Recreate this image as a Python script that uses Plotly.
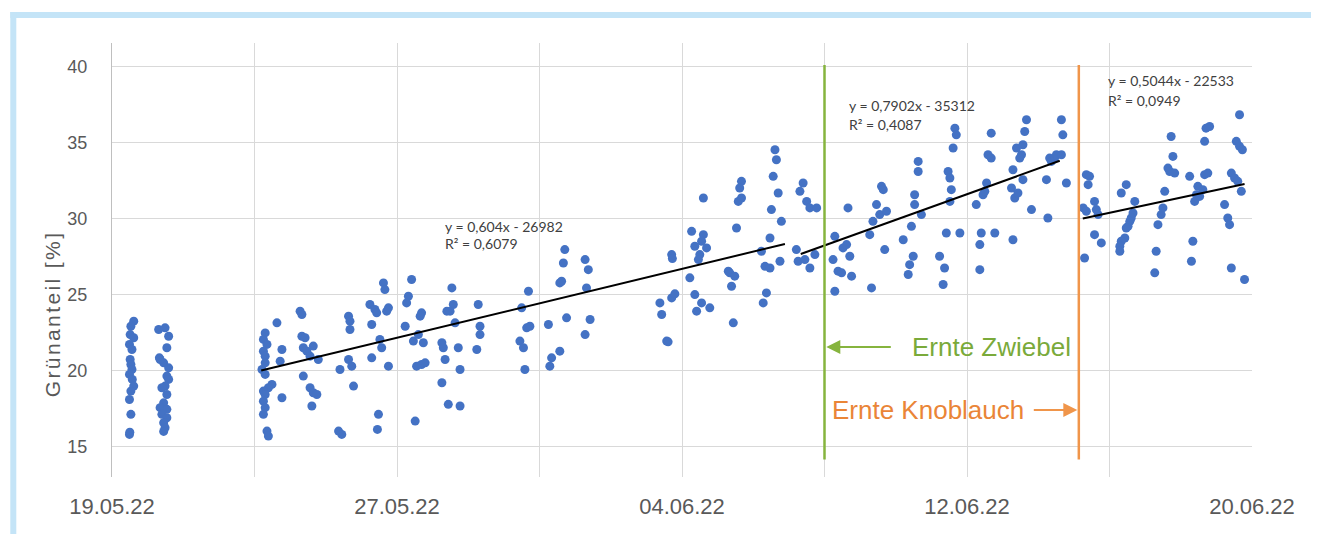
import pandas as pd
import plotly.graph_objects as go

# ---------------- data ----------------
base_date = pd.Timestamp("2022-05-19 00:00")

# measurement time as days after 19.05.22 00:00, and green share [%]
day_offset = [
    # 19./20.05.
    0.61, 0.53, 0.51, 0.61, 0.49, 0.56, 0.51, 0.53, 0.56, 0.49, 0.57, 0.61, 0.53, 0.49, 0.53, 0.49, 0.50,
    1.31, 1.49, 1.59, 1.54, 1.33, 1.45, 1.59, 1.54, 1.59, 1.49, 1.54, 1.45, 1.35, 1.54, 1.40, 1.54, 1.45, 1.49, 1.45, 1.35, 1.40,
    # 23.05.
    4.63, 4.30, 4.25, 4.35, 4.77, 4.25, 4.30, 4.72, 4.30, 4.21, 4.30, 4.49, 4.39, 4.25, 4.77, 4.30, 4.25, 4.30, 4.25, 4.35, 4.39,
    # 24.05. - 29.05.
    5.28, 5.33, 5.33, 5.42, 5.37, 5.47, 5.65, 5.56, 5.79, 5.37, 5.56, 5.65, 5.75, 5.61,
    6.64, 6.68, 6.68, 6.64, 6.73, 6.40, 6.78, 6.36, 6.45,
    7.24, 7.38, 7.43, 7.29, 7.71, 7.76, 7.52, 7.57, 7.29, 7.76, 7.48, 7.45, 7.62, 7.66,
    8.41, 8.32, 8.27, 8.23, 8.69, 8.65, 8.60, 8.46, 8.74, 8.55, 8.69, 8.79, 8.51,
    9.54, 9.58, 9.49, 9.40, 9.63, 9.26, 9.30, 9.72, 9.35, 9.77, 9.26, 9.44, 9.77,
    10.28, 10.33, 10.33, 10.24,
    # 30.05. - 03.06.
    11.69, 11.50, 11.64, 11.73, 11.45, 11.55, 11.59,
    12.25, 12.34, 12.29, 12.57, 12.71, 12.67, 12.57, 12.62, 12.76,
    13.28, 13.37, 13.32, 13.42, 13.28,
    15.71, 15.73, 15.38, 15.71, 15.80, 15.43, 15.57, 15.61,
    # 04.06. - 08.06.
    16.27, 16.60, 16.69, 16.55, 16.36, 16.50, 16.46, 16.22, 16.36, 16.55, 16.78, 16.41, 16.60,
    17.67, 17.62, 17.58, 17.67, 17.53, 17.30, 17.34, 17.48, 17.39, 17.44,
    18.61, 18.65, 18.56, 18.70, 18.51, 18.79, 18.47, 18.23, 18.33, 18.47, 18.75, 18.37, 18.28,
    19.40, 19.31, 19.50, 19.59, 19.78, 19.21, 19.26, 19.45, 19.59, 19.73,
    20.29, 20.52, 20.62, 20.71, 20.24, 20.38, 20.48, 20.76, 20.29, 20.66,
    # 09.06. - 14.06.
    21.27, 21.36, 21.46, 21.55, 21.60, 21.65, 21.74, 21.32, 21.69,
    22.21, 22.44, 22.49, 22.39, 22.35, 22.53, 22.53, 22.63, 22.63, 22.72,
    23.23, 23.37, 23.33, 23.42, 23.80, 23.47, 23.52, 23.56, 23.52, 23.61, 23.66, 23.70,
    24.26, 24.40, 24.36, 24.36, 24.45, 24.55, 24.50, 24.68, 24.59, 24.68, 24.78,
    25.25, 25.29, 25.34, 25.29, 25.43, 25.39, 25.57, 25.53, 25.48, 25.57, 25.67, 25.62, 25.81,
    26.23, 26.27, 26.32, 26.37, 26.46, 26.51, 26.65, 26.69, 26.65, 26.79,
    # 15.06. - 19.06.
    27.35, 27.44, 27.40, 27.26, 27.35, 27.58, 27.63, 27.68, 27.58, 27.77, 27.30,
    28.33, 28.47, 28.71, 28.66, 28.61, 28.57, 28.52, 28.47, 28.43, 28.33, 28.29, 28.29,
    29.31, 29.27, 29.36, 29.45, 29.50, 29.55, 29.73, 29.78, 29.64, 29.69, 29.83,
    30.25, 30.34, 30.30, 30.48, 30.44, 30.39, 30.53, 30.62, 30.67, 30.76, 30.67, 30.71, 30.81,
    31.23, 31.32, 31.37, 31.42, 31.42, 31.51, 31.60, 31.70, 31.56, 31.65, 31.73, 31.65, 31.79,
]
gruenanteil = [
    23.25, 22.92, 22.37, 22.16, 21.72, 21.39, 20.73, 20.40, 20.07, 19.75, 19.42, 18.98, 18.65, 18.10, 17.12, 15.80, 15.95,
    22.70, 22.81, 22.26, 21.50, 20.84, 20.51, 20.18, 19.64, 19.42, 18.98, 18.43, 17.88, 17.56, 17.45, 17.12, 16.90, 16.57, 16.24, 16.00, 20.73, 18.87,
    23.14, 22.48, 22.05, 21.72, 21.39, 21.28, 20.95, 20.62, 20.51, 20.07, 19.75, 19.09, 18.87, 18.65, 18.21, 18.43, 17.99, 17.56, 17.12, 16.02, 15.69,
    23.91, 23.69, 22.26, 22.16, 21.50, 21.28, 21.61, 20.95, 20.73, 19.64, 18.87, 18.54, 18.43, 17.67,
    23.58, 23.25, 22.70, 20.73, 20.29, 20.07, 18.98, 16.02, 15.80,
    24.35, 24.02, 23.80, 23.03, 23.91, 24.13, 22.05, 21.50, 20.84, 20.29, 17.12, 16.13, 25.77, 25.33,
    25.99, 24.89, 24.45, 22.92, 23.80, 23.58, 22.37, 21.94, 21.83, 20.29, 20.40, 20.51, 16.68,
    25.44, 24.35, 23.91, 23.91, 23.14, 21.83, 21.50, 21.50, 20.73, 20.07, 19.20, 17.78, 17.67,
    24.35, 22.92, 22.37, 21.39,
    25.22, 24.13, 22.81, 22.92, 21.94, 21.50, 20.07,
    23.03, 20.84, 20.29, 21.28, 27.96, 27.08, 25.77, 25.88, 23.47,
    27.30, 26.64, 25.44, 23.36, 22.37,
    27.63, 27.37, 24.45, 24.78, 25.05, 23.69, 21.94, 21.89,
    29.16, 28.94, 28.07, 28.51, 28.18, 27.63, 27.30, 26.10, 25.00, 24.45, 24.13, 23.91, 31.35,
    32.45, 32.01, 31.13, 31.35, 29.38, 26.54, 26.43, 26.21, 25.55, 23.14,
    34.53, 33.87, 32.78, 31.68, 30.59, 29.82, 28.72, 27.85, 26.86, 26.75, 27.19, 25.11, 24.45,
    32.34, 31.79, 31.13, 30.70, 30.70, 27.96, 27.19, 27.30, 26.75, 27.63,
    28.83, 28.07, 28.29, 27.52, 27.30, 26.54, 26.43, 26.21, 25.22, 30.70,
    28.94, 29.82, 30.92, 30.26, 32.12, 31.90, 30.48, 25.44, 27.96,
    28.61, 29.49, 27.52, 26.97, 26.32, 31.57, 30.92, 33.76, 33.10, 30.26,
    27.52, 26.75, 25.66, 29.05, 29.05, 33.10, 32.67, 31.90, 31.13, 34.64, 35.95, 35.51,
    30.92, 29.05, 28.29, 26.64, 31.57, 32.34, 31.79, 35.62, 34.20, 33.98, 29.05,
    32.01, 33.21, 31.35, 28.61, 31.68, 34.64, 34.86, 34.20, 33.98, 32.56, 36.50, 35.73, 30.59,
    32.56, 30.04, 33.98, 33.76, 33.98, 34.20, 36.50, 35.51, 34.20, 32.34,
    32.89, 32.78, 32.23, 30.70, 30.48, 31.13, 30.59, 30.26, 28.94, 28.40, 27.41,
    31.68, 32.23, 31.13, 30.37, 30.04, 29.82, 29.49, 29.38, 28.72, 28.51, 28.18, 27.85,
    27.85, 26.43, 29.60, 30.26, 30.70, 31.79, 35.40, 34.09, 33.32, 33.10, 32.99,
    32.78, 28.51, 27.19, 32.12, 31.57, 31.13, 31.46, 31.90, 32.89, 32.99, 35.08, 35.95, 36.06,
    30.92, 30.04, 29.60, 26.75, 32.99, 32.67, 32.45, 31.79, 35.08, 34.75, 34.53, 36.83, 25.99,
]

# linear trend segments (start / end time, start / end value)
trend_start = ["2022-05-23 04:30", "2022-06-07 08:00", "2022-06-15 06:00"]
trend_end = ["2022-06-06 21:20", "2022-06-14 14:30", "2022-06-19 19:00"]
trend_start_val = [20.0, 27.67, 30.0]
trend_end_val = [28.33, 33.8, 32.27]
trend_eq = ["y = 0,604x - 26982", "y = 0,7902x - 35312", "y = 0,5044x - 22533"]
trend_r2 = ["R² = 0,6079", "R² = 0,4087", "R² = 0,0949"]

harvest_labels = ["Ernte Zwiebel", "Ernte Knoblauch"]
harvest_dates = ["2022-06-08 00:00", "2022-06-15 03:20"]

y_ticks = [15, 20, 25, 30, 35, 40]

# ---------------- figure ----------------
times = [base_date + pd.Timedelta(days=d) for d in day_offset]

fig = go.Figure()
fig.add_trace(go.Scatter(
    x=times, y=gruenanteil, mode="markers",
    marker=dict(color="#4472C4", size=9, line=dict(width=0)),
    showlegend=False, hoverinfo="skip"))

for s, e, sv, ev in zip(trend_start, trend_end, trend_start_val, trend_end_val):
    fig.add_trace(go.Scatter(
        x=[s, e], y=[sv, ev], mode="lines",
        line=dict(color="#000000", width=2), showlegend=False, hoverinfo="skip"))

# page body has an 8px default margin -> shrink figure and shift layout
OFF = 8
W, H = 1319 - OFF, 534 - OFF
L, R, T, B = 111.7, 1251.7, 43, 477   # plot area in page pixels


def px_x(p):
    return (p - L) / (R - L)


def px_y(p):
    return (B - p) / (B - T)


harvest_colors = ["#86B43E", "#F0954A"]
for d, c in zip(harvest_dates, harvest_colors):
    fig.add_shape(type="line", xref="x", yref="y", x0=d, x1=d, y0=14.15, y1=40.11,
                  line=dict(color=c, width=2.5), layer="above")

# outer light blue frame (top and left edges)
frame = dict(color="#C4E4F7", width=6)
fig.add_shape(type="line", xref="paper", yref="paper",
              x0=px_x(10), x1=px_x(1400), y0=px_y(15), y1=px_y(15), line=frame, layer="below")
fig.add_shape(type="line", xref="paper", yref="paper",
              x0=px_x(13), x1=px_x(13), y0=px_y(12), y1=px_y(600), line=frame, layer="below")

ann = []
eq_pos = [(443, 226, 243), (847, 105, 125), (1106, 81, 100)]
for (xp, y1p, y2p), eq, r2 in zip(eq_pos, trend_eq, trend_r2):
    for txt, yp in ((eq, y1p), (r2, y2p)):
        ann.append(dict(x=px_x(xp), y=px_y(yp), xref="paper", yref="paper",
                        text=txt, showarrow=False, xanchor="left", yanchor="middle",
                        font=dict(family="Lato", size=14, color="#404040")))

ann.append(dict(x=px_x(910), y=px_y(347), xref="paper", yref="paper",
                text=harvest_labels[0], showarrow=False, xanchor="left", yanchor="middle",
                font=dict(family="Liberation Sans", size=26, color="#7AAA3A")))
ann.append(dict(x=px_x(830), y=px_y(410), xref="paper", yref="paper",
                text=harvest_labels[1], showarrow=False, xanchor="left", yanchor="middle",
                font=dict(family="Liberation Sans", size=26, color="#EA8537")))
# arrows
ann.append(dict(x=px_x(826), y=px_y(347), xref="paper", yref="paper", text="",
                showarrow=True, ax=66, ay=0, arrowhead=2, arrowsize=1.4, arrowwidth=2,
                arrowcolor="#86B43E", standoff=0))
ann.append(dict(x=px_x(1077), y=px_y(410), xref="paper", yref="paper", text="",
                showarrow=True, ax=-45, ay=0, arrowhead=2, arrowsize=1.4, arrowwidth=2,
                arrowcolor="#F0954A", standoff=0))
# y-axis title
ann.append(dict(x=px_x(52), y=px_y(314), xref="paper", yref="paper",
                text='<span style="letter-spacing:2.4px">Grünanteil [%]</span>',
                showarrow=False, textangle=-90,
                xanchor="center", yanchor="middle",
                font=dict(family="Liberation Sans", size=21, color="#595959")))

DAY = 86400000
fig.update_layout(
    width=W, height=H,
    margin=dict(l=L - OFF, r=W - (R - OFF), t=T - OFF, b=H - (B - OFF), pad=0),
    paper_bgcolor="white", plot_bgcolor="white",
    showlegend=False,
    annotations=ann,
    xaxis=dict(
        type="date", range=["2022-05-19", "2022-06-20"],
        tick0="2022-05-19", dtick=8 * DAY, tickformat="%d.%m.%y",
        showgrid=True, gridcolor="#D9D9D9", gridwidth=1,
        minor=dict(dtick=4 * DAY, tick0="2022-05-19", showgrid=True, gridcolor="#D9D9D9", gridwidth=1),
        showline=False, zeroline=False, ticks="",
        tickfont=dict(family="Liberation Sans", size=22, color="#595959"),
        ticklabelstandoff=14,
    ),
    yaxis=dict(
        range=[13.0, 41.55], tickvals=y_ticks,
        showgrid=True, gridcolor="#D9D9D9", gridwidth=1,
        showline=True, linecolor="#BFBFBF", linewidth=1,
        zeroline=False, ticks="",
        tickfont=dict(family="Liberation Sans", size=18, color="#595959"),
        ticklabelstandoff=20,
    ),
)

fig.write_html("out.html")
